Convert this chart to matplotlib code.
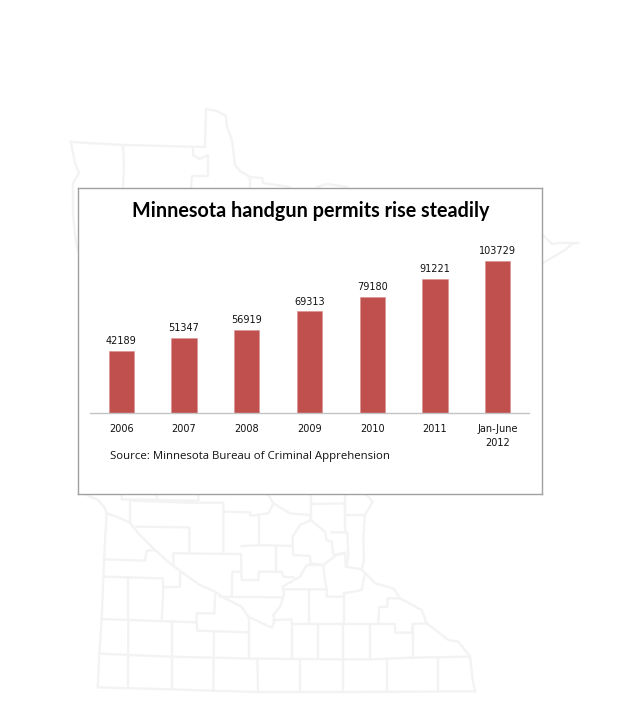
import matplotlib
matplotlib.use("Agg")
import matplotlib.pyplot as plt

categories = ["2006", "2007", "2008", "2009", "2010", "2011", "Jan-June\n2012"]
permits = [42189, 51347, 56919, 69313, 79180, 91221, 103729]
title = "Minnesota handgun permits rise steadily"
source = "Source: Minnesota Bureau of Criminal Apprehension"

W, H = 620, 720
plt.rcParams["font.family"] = ["DejaVu Sans"]
fig = plt.figure(figsize=(W / 100, H / 100), dpi=100, facecolor="white")

# Faint county map behind the chart, in pixel coordinates of the picture
bg = fig.add_axes([0, 0, 1, 1], zorder=0)
bg.set_xlim(0, W)
bg.set_ylim(H, 0)
bg.axis("off")


def zp(*pts):
    return [(60 + x / 3, 480 + y / 3) for x, y in pts]


map_lines = [
    # northern part
    [(71, 142), (123, 145), (205, 147), (206, 109), (217, 111), (226, 116), (227, 127), (232, 140), (233, 148), (235, 165), (240, 171), (250, 177), (262, 178), (263, 183), (290, 187)],
    [(71, 142), (73, 153), (75, 163), (79, 173), (73, 183), (73, 215), (76, 243), (78, 250)],
    [(123, 145), (124, 165), (123, 188)],
    [(193, 148), (193, 155), (200, 159), (208, 155), (208, 176), (192, 176), (191, 188)],
    [(250, 177), (250, 188)],
    [(317, 187), (327, 184), (347, 187)],
    # tip on the east side
    [(543, 235), (552, 244), (560, 243), (578, 243)],
    [(543, 263), (565, 250), (572, 244)],
    # southern part
    zp((80, 45), (115, 60), (135, 85), (140, 100), (170, 110), (210, 128), (235, 160), (265, 190), (285, 210), (330, 250), (370, 280), (420, 315), (465, 335), (490, 352), (545, 380), (565, 410), (635, 443), (645, 420), (640, 405), (660, 380), (672, 345), (668, 320), (720, 290), (740, 255), (790, 255), (830, 225), (855, 220), (858, 260), (905, 268), (945, 310), (1000, 325), (1020, 355), (1085, 390), (1100, 430), (1165, 480), (1195, 485), (1230, 530), (1238, 600), (1245, 632)),
    zp((140, 100), (132, 240), (125, 420), (118, 525), (113, 622), (330, 628), (590, 636), (850, 636), (1245, 634)),
    zp((132, 238), (255, 242), (260, 212), (285, 210)),
    zp((130, 290), (308, 295), (310, 322), (360, 320), (360, 280)),
    zp((204, 292), (204, 420)),
    zp((310, 322), (305, 422)),
    zp((125, 417), (410, 427), (410, 400), (463, 400), (466, 340)),
    zp((410, 427), (412, 452), (565, 457)),
    zp((205, 420), (204, 622)),
    zp((335, 425), (335, 628)),
    zp((462, 455), (460, 632)),
    zp((568, 410), (568, 530)),
    zp((120, 521), (330, 530), (590, 536), (850, 538), (930, 538), (1055, 533), (1230, 530)),
    zp((592, 536), (594, 636)),
    zp((720, 538), (720, 636)),
    zp((850, 430), (850, 636)),
    zp((980, 538), (980, 636)),
    zp((1133, 535), (1133, 634)),
    zp((695, 432), (695, 532)),
    zp((773, 432), (773, 532)),
    zp((930, 435), (930, 538)),
    zp((1058, 432), (1058, 533)),
    zp((640, 420), (695, 418), (695, 432), (1005, 432), (1005, 458), (1055, 458), (1058, 432), (1100, 430)),
    zp((955, 430), (957, 382), (982, 380), (982, 355), (1020, 355)),
    zp((748, 332), (748, 430)),
    zp((852, 340), (852, 430)),
    zp((672, 328), (800, 328), (800, 350), (852, 350), (852, 340), (905, 330), (915, 280)),
    zp((480, 350), (665, 352)),
    zp((515, 350), (517, 275), (543, 275)),
    zp((340, 255), (340, 220), (543, 222), (545, 300), (595, 300), (597, 275), (665, 275), (670, 290), (700, 292)),
    zp((230, 140), (388, 142), (388, 218)),
    zp((210, 128), (210, 62), (388, 68), (490, 68), (490, 218)),
    zp((185, 45), (185, 58), (415, 62), (415, 45)),
    zp((290, 45), (290, 60)),
    zp((490, 95), (570, 97), (572, 107), (625, 100), (640, 70), (625, 45)),
    zp((640, 70), (690, 100), (750, 105), (752, 120), (795, 155), (800, 180), (815, 185), (820, 225), (855, 218)),
    zp((597, 105), (597, 195), (698, 198), (698, 170), (720, 135), (752, 120)),
    zp((545, 198), (597, 196)),
    zp((648, 198), (648, 272)),
    zp((698, 198), (700, 225), (750, 228), (752, 250), (790, 255), (795, 300), (800, 328)),
    zp((752, 45), (752, 120)),
    zp((752, 72), (855, 70), (855, 155)),
    zp((855, 45), (855, 105), (915, 105), (938, 65), (920, 45)),
    zp((815, 157), (862, 157), (865, 230), (858, 260)),
    zp((915, 105), (910, 170), (912, 240), (905, 268)),
]
for pts in map_lines:
    xs, ys = zip(*pts)
    bg.plot(xs, ys, color="#f3f3f3", lw=1.7, solid_joinstyle="round", zorder=1)

# White chart panel with grey border
left, right, top, bottom = 78, 542, 188, 494
panel = fig.add_axes([left / W, 1 - bottom / H, (right - left) / W, (bottom - top) / H], zorder=1)
panel.set_xticks([])
panel.set_yticks([])
panel.set_facecolor("white")
for s in panel.spines.values():
    s.set_color("#a0a0a0")
    s.set_linewidth(1.0)

# Bars
ax_l, ax_r, ax_t, ax_b = 90, 529, 240, 413
ax = fig.add_axes([ax_l / W, 1 - ax_b / H, (ax_r - ax_l) / W, (ax_b - ax_t) / H], zorder=2)
ax.patch.set_alpha(0)
xpos = range(len(categories))
ax.bar(xpos, permits, width=0.405, color="#c0504d", edgecolor="#d9908e", linewidth=0.4)
ax.set_xlim(-0.5, len(categories) - 0.5)
ax.set_ylim(0, 118000)
ax.set_yticks([])
ax.set_xticks(list(xpos))
ax.set_xticklabels(categories, fontsize=7, color="#111111", linespacing=1.45)
ax.tick_params(axis="x", length=0, pad=8)
for s in ("top", "left", "right"):
    ax.spines[s].set_visible(False)
ax.spines["bottom"].set_color("#c4c4c4")
ax.spines["bottom"].set_linewidth(1.0)
for x, v in zip(xpos, permits):
    ax.annotate(str(v), (x, v), xytext=(0, 3.5), textcoords="offset points", ha="center", va="bottom",
                fontsize=7, color="#111111")

fig.text(310.5 / W, 1 - 211 / H, title, ha="center", va="center", fontsize=14.25, fontweight="bold",
         color="black", family=["Lato", "DejaVu Sans"], zorder=5)
fig.text(110 / W, 1 - 457 / H, source, ha="left", va="center", fontsize=8.23,
         color="#111111", family=["Open Sans", "DejaVu Sans"], zorder=5)

fig.savefig("out.png", dpi=100)
